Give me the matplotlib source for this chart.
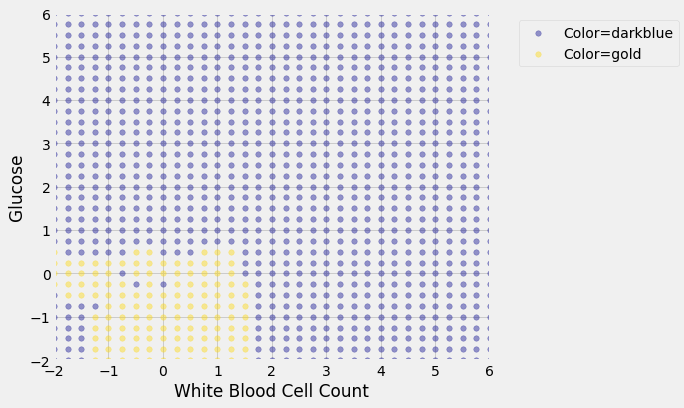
import numpy as np
import matplotlib
matplotlib.use("Agg")
import matplotlib.pyplot as plt

plt.style.use("fivethirtyeight")

# grid of test points, step 0.25 from -2 to 6 on both axes
x_vals = np.arange(-2, 6.01, 0.25)
y_vals = np.arange(-2, 6.01, 0.25)

# classified colours in the lower-left corner, read row by row
# columns: x = -2, -1.75, ..., 1.75 ; everything else is darkblue
gold_rows_y = [0.5, 0.25, 0, -0.25, -0.5, -0.75, -1, -1.25, -1.5, -1.75, -2]
gold_rows = [
    "gbbbbbggbbbgggbb",
    "ggggggggggggggbb",
    "gggggbggggggggbb",
    "ggggggbgbggggggb",
    "bggggggggggggggb",
    "bbbbgggggggggggb",
    "bbbggggggggggggb",
    "bbbggggggggggggb",
    "bbbggggggggggggb",
    "bbbggggggggggggb",
    "bbbggggggggggggb",
]
gold_cols_x = np.arange(-2, 1.76, 0.25)

xs, ys, labels = [], [], []
for y in y_vals:
    for x in x_vals:
        lab = "darkblue"
        for ry, row in zip(gold_rows_y, gold_rows):
            if abs(y - ry) < 1e-9:
                for cx, ch in zip(gold_cols_x, row):
                    if abs(x - cx) < 1e-9 and ch == "g":
                        lab = "gold"
        xs.append(x)
        ys.append(y)
        labels.append(lab)

xs = np.array(xs)
ys = np.array(ys)
labels = np.array(labels)

fig = plt.figure(figsize=(9.5, 5.68), dpi=72)
fig.patch.set_facecolor("#f0f0f0")
ax = fig.add_axes([0.0790, 0.1170, 0.6370, 0.8485])

for c in ["darkblue", "gold"]:
    m = labels == c
    ax.scatter(xs[m], ys[m], color=c, alpha=0.4, s=30, label="Color=" + c)

ax.set_xlim(-2, 6)
ax.set_ylim(-2, 6)
ax.set_xticks(range(-2, 7))
ax.set_yticks(range(-2, 7))
ax.tick_params(labelsize=14)
ax.set_xlabel("White Blood Cell Count", fontsize=17)
ax.set_ylabel("Glucose", fontsize=17)
ax.legend(loc=2, bbox_to_anchor=(1.05, 1), fontsize=14, scatterpoints=1)

fig.savefig("out.png", dpi=72, facecolor=fig.get_facecolor())
